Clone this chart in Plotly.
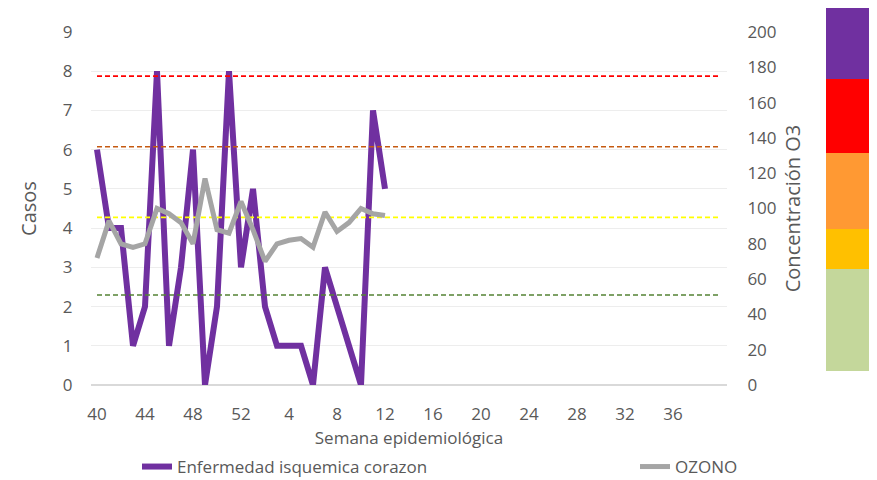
import plotly.graph_objects as go

# Categories: epidemiological weeks 40..52 then 1..40
weeks = [str(w) for w in range(40, 53)] + [str(w) for w in range(1, 41)]
tick_labels = [w if i % 4 == 0 and i < 52 else "" for i, w in enumerate(weeks)]

casos = [6, 4, 4, 1, 2, 8, 1, 3, 6, 0, 2, 8, 3,
         5, 2, 1, 1, 1, 0, 3, 2, 1, 0, 7, 5]
ozono = [72, 93, 80, 78, 80, 100, 97, 92, 80, 117, 88, 86, 104,
         88, 70, 80, 82, 83, 78, 98, 87, 92, 100, 97, 96]

thresholds = [175, 135, 95, 51]
threshold_colors = ["#FF0000", "#C55A11", "#FFFF00", "#548235"]

band_colors = ["#7030A0", "#FF0000", "#FF9933", "#FFC000", "#C4D79B"]
band_edges_px = [0, 71, 145, 221, 261, 363]   # figure pixels, top to bottom

n = len(weeks)
idx = list(range(n))

fig = go.Figure()

for t, c in zip(thresholds, threshold_colors):
    fig.add_trace(go.Scatter(x=idx, y=[t] * n, mode="lines", yaxis="y2",
                             line=dict(color=c, width=1.7, dash="5px,3px"),
                             showlegend=False, hoverinfo="skip"))

fig.add_trace(go.Scatter(x=idx[:len(casos)], y=casos, mode="lines",
                         name="Enfermedad isquemica corazon", legend="legend",
                         line=dict(color="#7030A0", width=6)))
fig.add_trace(go.Scatter(x=idx[:len(ozono)], y=ozono, mode="lines",
                         name="OZONO", yaxis="y2", legend="legend2",
                         line=dict(color="#A5A5A5", width=5)))

PL, PT, PW, PH = 83, 24, 636, 353
shapes = []
for i, c in enumerate(band_colors):
    shapes.append(dict(type="rect", xref="paper", yref="paper",
                       x0=(818 - PL) / PW, x1=(865 - PL) / PW,
                       y0=(PT + PH - band_edges_px[i + 1]) / PH,
                       y1=(PT + PH - band_edges_px[i]) / PH,
                       fillcolor=c, line=dict(width=0), layer="above"))

font = dict(family="Open Sans, sans-serif", size=17, color="#595959")
leg_y = (PT + PH - 459) / PH

fig.update_layout(
    width=877, height=480,
    margin=dict(l=PL, r=877 - PL - PW, t=PT, b=480 - PT - PH, autoexpand=False),
    paper_bgcolor="white", plot_bgcolor="white",
    font=font,
    shapes=shapes,
    showlegend=True,
    xaxis=dict(range=[-0.5, n - 0.5], tickmode="array", tickvals=idx,
               ticktext=tick_labels, showgrid=False, zeroline=False,
               ticks="outside", ticklen=14, tickcolor="rgba(0,0,0,0)",
               showline=False,
               title=dict(text="Semana epidemiológica", standoff=7,
                          font=dict(size=17, color="#595959"))),
    yaxis=dict(range=[0, 9], dtick=1, showgrid=True, gridcolor="#EDEDED",
               gridwidth=1, zeroline=True, zerolinecolor="#D9D9D9",
               zerolinewidth=1.5, ticks="outside", ticklen=14,
               tickcolor="rgba(0,0,0,0)", showline=False,
               title=dict(text="Casos", standoff=20)),
    yaxis2=dict(range=[0, 200], dtick=20, overlaying="y", side="right",
                showgrid=False, zeroline=False, ticks="outside", ticklen=16,
                tickcolor="rgba(0,0,0,0)", showline=False,
                title=dict(text="Concentración O3", standoff=10)),
    legend=dict(orientation="h", x=(129 - PL) / PW, y=leg_y,
                xanchor="left", yanchor="middle",
                font=dict(size=17, color="#595959"), bgcolor="rgba(0,0,0,0)"),
    legend2=dict(orientation="h", x=(627 - PL) / PW, y=leg_y,
                 xanchor="left", yanchor="middle",
                 font=dict(size=17, color="#595959"), bgcolor="rgba(0,0,0,0)"),
)

fig.write_html("out.html")
